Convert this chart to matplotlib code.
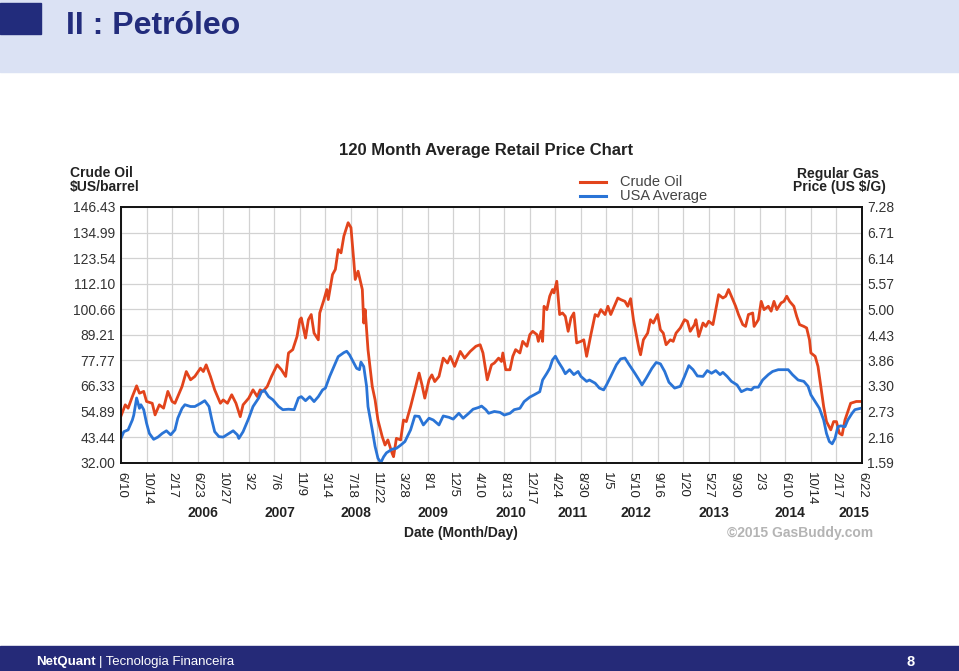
import matplotlib
matplotlib.use("Agg")
import matplotlib.pyplot as plt
from matplotlib.patches import Rectangle
from matplotlib.lines import Line2D
from matplotlib.transforms import blended_transform_factory

plt.rcParams['font.family'] = ['Liberation Sans', 'DejaVu Sans']

# Weekly data, week 0 = 6/10/2005
oil_weeks = [0, 3, 5, 8, 11, 13, 16, 18, 22, 24, 27, 30, 33, 36, 38, 40, 43, 46, 49, 52,
             56, 58, 60, 63, 66, 70, 72, 75, 78, 81, 84, 86, 90, 93, 96, 98, 100, 103, 106, 110,
             113, 116, 118, 121, 124, 126, 127, 130, 132, 134, 136, 139, 140, 143, 145, 146, 149, 151, 153, 155,
             157, 160, 162, 164, 165, 167, 170, 171, 172, 174, 177, 179, 181, 184, 186, 188, 191, 192, 194, 197,
             199, 201, 204, 207, 210, 212, 214, 217, 219, 221, 224, 227, 230, 232, 235, 239, 242, 246, 250, 253,
             255, 258, 261, 263, 266, 268, 269, 271, 274, 276, 278, 281, 283, 286, 288, 290, 293, 294, 296, 297,
             298, 300, 302, 304, 305, 307, 309, 311, 313, 315, 317, 319, 321, 324, 326, 328, 331, 334, 336, 338,
             341, 343, 345, 347, 350, 352, 355, 357, 359, 361, 363, 365, 366, 368, 371, 373, 375, 378, 380, 382,
             384, 387, 389, 391, 394, 397, 399, 401, 404, 405, 407, 410, 412, 414, 417, 419, 421, 424, 426, 428,
             431, 433, 435, 438, 440, 442, 445, 446, 449, 451, 453, 456, 458, 460, 462, 465, 467, 469, 471, 474,
             476, 478, 481, 483, 485, 486, 489, 491, 493, 495, 497, 500, 502, 504, 506, 508, 510, 512, 514, 518,
             521]
oil_price = [52.9, 57.9, 56.4, 61.6, 66.4, 63.1, 63.9, 59.4, 58.6, 53.4, 57.9, 56.4, 63.9, 59.4, 58.6, 61.6, 66.1, 72.8, 69.1, 70.6,
             74.3, 72.8, 75.8, 70.6, 64.6, 58.6, 60.1, 58.6, 62.4, 58.6, 52.6, 57.9, 60.9, 64.6, 61.6, 64.6, 63.9, 66.1, 70.6, 75.8,
             73.6, 70.6, 81.1, 82.6, 88.5, 96.0, 96.8, 87.8, 96.0, 98.3, 90.0, 87.0, 99.0, 105.0, 109.5, 105.0, 116.2, 118.5, 127.4, 125.9,
             133.4, 139.4, 137.2, 122.2, 114.0, 117.7, 109.5, 94.5, 100.5, 82.6, 66.1, 60.1, 51.1, 43.7, 39.9, 42.2, 36.2, 34.7, 42.9, 42.2,
             51.1, 50.4, 57.1, 64.6, 72.1, 66.9, 60.9, 69.1, 71.3, 68.3, 70.6, 78.8, 76.6, 79.6, 75.1, 81.8, 78.8, 81.8, 84.1, 84.8,
             81.1, 69.1, 75.8, 76.6, 78.8, 77.3, 81.1, 73.6, 73.6, 79.6, 82.6, 81.1, 86.3, 84.1, 89.3, 90.8, 89.3, 86.3, 90.8, 86.3,
             102.0, 100.5, 106.5, 109.5, 108.0, 113.2, 98.3, 99.0, 97.5, 90.8, 96.8, 99.0, 85.6, 86.3, 87.0, 79.6, 89.3, 98.3, 97.5, 100.5,
             98.3, 102.0, 98.3, 101.3, 105.7, 105.0, 104.2, 102.0, 105.4, 96.0, 89.3, 82.6, 80.3, 87.0, 90.0, 96.0, 94.5, 98.3, 91.5, 90.0,
             84.8, 87.0, 86.3, 90.0, 92.3, 96.0, 95.3, 90.8, 93.8, 96.0, 88.5, 94.5, 93.0, 95.3, 93.8, 100.5, 107.2, 105.7, 106.5, 109.5,
             105.0, 102.0, 98.3, 93.8, 93.0, 98.3, 99.0, 93.0, 96.0, 104.2, 100.5, 102.0, 99.8, 104.2, 100.5, 103.5, 104.2, 106.5, 104.2, 102.0,
             97.5, 93.8, 93.0, 92.3, 87.0, 81.1, 79.6, 75.1, 66.1, 57.1, 50.4, 46.7, 50.4, 50.4, 45.2, 44.4, 51.1, 54.9, 58.6, 59.4,
             59.4]

gas_weeks = [0, 2, 5, 8, 9, 11, 13, 14, 16, 18, 20, 23, 26, 29, 32, 35, 38, 40, 43, 45,
             49, 52, 56, 59, 62, 64, 66, 69, 72, 76, 79, 82, 83, 86, 90, 93, 97, 99, 101, 104,
             107, 111, 114, 118, 122, 125, 127, 130, 133, 136, 139, 142, 144, 147, 150, 153, 157, 159, 161, 164,
             166, 168, 169, 171, 173, 174, 177, 179, 181, 183, 185, 187, 191, 194, 197, 200, 204, 207, 210, 213,
             217, 220, 224, 227, 231, 234, 238, 241, 245, 248, 252, 254, 257, 259, 263, 267, 270, 274, 277, 281,
             284, 288, 291, 295, 297, 300, 302, 304, 306, 308, 311, 313, 316, 319, 322, 324, 328, 330, 334, 337,
             340, 342, 345, 349, 352, 355, 358, 362, 365, 367, 370, 374, 377, 380, 383, 386, 390, 394, 397, 400,
             403, 406, 410, 413, 416, 419, 422, 424, 427, 430, 434, 437, 441, 444, 446, 449, 452, 456, 459, 463,
             466, 470, 473, 477, 481, 484, 486, 489, 492, 495, 497, 499, 501, 503, 505, 507, 510, 512, 515, 517,
             521]
gas_price = [2.13, 2.28, 2.32, 2.54, 2.65, 3.03, 2.80, 2.88, 2.77, 2.47, 2.24, 2.11, 2.16, 2.24, 2.30, 2.21, 2.32, 2.58, 2.80, 2.88,
             2.84, 2.84, 2.91, 2.97, 2.84, 2.54, 2.28, 2.17, 2.16, 2.24, 2.30, 2.21, 2.13, 2.28, 2.58, 2.84, 3.03, 3.17, 3.20, 3.06,
             2.99, 2.84, 2.77, 2.78, 2.77, 3.03, 3.06, 2.97, 3.06, 2.95, 3.06, 3.21, 3.25, 3.51, 3.73, 3.95, 4.04, 4.07, 3.99, 3.81,
             3.69, 3.66, 3.83, 3.73, 3.29, 2.84, 2.32, 1.95, 1.69, 1.59, 1.72, 1.81, 1.89, 1.91, 1.98, 2.06, 2.32, 2.63, 2.62, 2.43,
             2.58, 2.54, 2.43, 2.63, 2.60, 2.56, 2.69, 2.58, 2.69, 2.78, 2.82, 2.85, 2.77, 2.69, 2.73, 2.71, 2.65, 2.69, 2.77, 2.80,
             2.95, 3.05, 3.10, 3.17, 3.43, 3.58, 3.69, 3.88, 3.96, 3.84, 3.69, 3.57, 3.66, 3.55, 3.62, 3.51, 3.40, 3.43, 3.36, 3.25,
             3.21, 3.32, 3.51, 3.77, 3.90, 3.92, 3.77, 3.58, 3.43, 3.32, 3.47, 3.69, 3.82, 3.79, 3.62, 3.38, 3.25, 3.29, 3.51, 3.75,
             3.66, 3.52, 3.51, 3.64, 3.58, 3.64, 3.55, 3.60, 3.51, 3.40, 3.32, 3.17, 3.23, 3.21, 3.27, 3.27, 3.43, 3.55, 3.62, 3.66,
             3.66, 3.66, 3.55, 3.43, 3.40, 3.29, 3.10, 2.95, 2.80, 2.54, 2.24, 2.06, 2.01, 2.13, 2.39, 2.41, 2.39, 2.54, 2.69, 2.77,
             2.80]

# axis labels
date_labels = ['6/10', '10/14', '2/17', '6/23', '10/27', '3/2', '7/6', '11/9', '3/14', '7/18',
               '11/22', '3/28', '8/1', '12/5', '4/10', '8/13', '12/17', '4/24', '8/30', '1/5',
               '5/10', '9/16', '1/20', '5/27', '9/30', '2/3', '6/10', '10/14', '2/17', '6/22']
years = ['2006', '2007', '2008', '2009', '2010', '2011', '2012', '2013', '2014', '2015']
year_weeks = [58, 112, 165.5, 220, 275, 318, 363, 417.5, 471, 516]
oil_ticks = [32.00, 43.44, 54.89, 66.33, 77.77, 89.21, 100.66, 112.10, 123.54, 134.99, 146.43]
gas_ticks = [1.59, 2.16, 2.73, 3.30, 3.86, 4.43, 5.00, 5.57, 6.14, 6.71, 7.28]

W, H = 959, 671
def fx(px):
    return px / W
def fy(py):
    return 1 - py / H

fig = plt.figure(figsize=(9.59, 6.71), dpi=100)

# slide header and footer
fig.patches.append(Rectangle((0, fy(72)), 1, 72 / H, transform=fig.transFigure,
                             color='#dbe2f4', zorder=0))
fig.patches.append(Rectangle((0, fy(34)), fx(41), 31 / H, transform=fig.transFigure,
                             color='#222c7c', zorder=1))
fig.text(fx(66), fy(34.5), 'II : Petróleo', fontsize=23, fontweight='bold',
         color='#222c7c', va='baseline', ha='left')
fig.patches.append(Rectangle((0, 0), 1, 25.5 / H, transform=fig.transFigure,
                             color='#252a78', zorder=0))
t_brand = fig.text(fx(36), fy(665), 'NetQuant', fontsize=9.5, fontweight='bold',
                   color='white', va='baseline')
renderer = fig.canvas.get_renderer()
brand_right = t_brand.get_window_extent(renderer).x1
fig.text((brand_right + 3) / W, fy(665), '| Tecnologia Financeira', fontsize=9.5,
         color='white', va='baseline')
fig.text(fx(911), fy(666), '8', fontsize=10.5, fontweight='bold', color='white',
         va='baseline', ha='center')

# chart
ax = fig.add_axes([fx(121), fy(462.7), fx(862) - fx(121), (462.7 - 207) / H])
ax2 = ax.twinx()

ax.plot(oil_weeks, oil_price, color='#e2441c', lw=2.0, solid_joinstyle='round')
ax2.plot(gas_weeks, gas_price, color='#2a74d6', lw=2.0, solid_joinstyle='round')

ax.set_xlim(0, 522)
ax.set_ylim(oil_ticks[0], oil_ticks[-1])
ax2.set_ylim(gas_ticks[0], gas_ticks[-1])

ax.set_xticks([18 * i for i in range(len(date_labels))])
ax.set_xticklabels(date_labels, rotation=270, fontsize=9.5, color='#222')
ax.set_yticks(oil_ticks)
ax.set_yticklabels([f'{v:.2f}' for v in oil_ticks], fontsize=10, color='#333')
ax2.set_yticks(gas_ticks)
ax2.set_yticklabels([f'{v:.2f}' for v in gas_ticks], fontsize=10, color='#333')

ax.tick_params(axis='both', length=0)
ax.tick_params(axis='x', pad=6.5)
ax.tick_params(axis='y', pad=4.3)
ax2.tick_params(axis='y', length=0, pad=3.8)

ax.grid(True, color='#d2d2d2', lw=0.9)
ax.set_axisbelow(True)
for a in (ax, ax2):
    for s in a.spines.values():
        s.set_color('#111')
        s.set_linewidth(1.2)

trans = blended_transform_factory(ax.transData, fig.transFigure)
for yr, wk in zip(years, year_weeks):
    ax.text(wk, fy(513), yr, transform=trans, ha='center', va='center',
            fontsize=10, fontweight='bold', color='#222')

fig.text(fx(461), fy(533), 'Date (Month/Day)', ha='center', va='center',
         fontsize=10, fontweight='bold', color='#222')
fig.text(fx(800), fy(533), '©2015 GasBuddy.com', ha='center', va='center',
         fontsize=10, fontweight='bold', color='#b4b4b4')

fig.text(fx(486), fy(154.5), '120 Month Average Retail Price Chart', ha='center',
         va='baseline', fontsize=12, fontweight='bold', color='#222')
fig.text(fx(70), fy(177), 'Crude Oil', fontsize=10, fontweight='bold', color='#222',
         va='baseline')
fig.text(fx(70), fy(191), '$US/barrel', fontsize=10, fontweight='bold', color='#222',
         va='baseline')
fig.text(fx(838), fy(177.5), 'Regular Gas', fontsize=10, fontweight='bold', color='#222',
         va='baseline', ha='center')
fig.text(fx(839.5), fy(191.5), 'Price (US $/G)', fontsize=10, fontweight='bold',
         color='#222', va='baseline', ha='center')

# legend
fig.add_artist(Line2D([fx(580), fx(606)], [fy(181.5)] * 2, color='#e2441c', lw=2.2,
                      transform=fig.transFigure))
fig.add_artist(Line2D([fx(580), fx(606)], [fy(196)] * 2, color='#2a74d6', lw=2.2,
                      transform=fig.transFigure))
fig.text(fx(620), fy(185.5), 'Crude Oil', fontsize=10.5, color='#444', va='baseline')
fig.text(fx(620), fy(200), 'USA Average', fontsize=10.5, color='#444', va='baseline')

fig.savefig('out.png', dpi=100)
